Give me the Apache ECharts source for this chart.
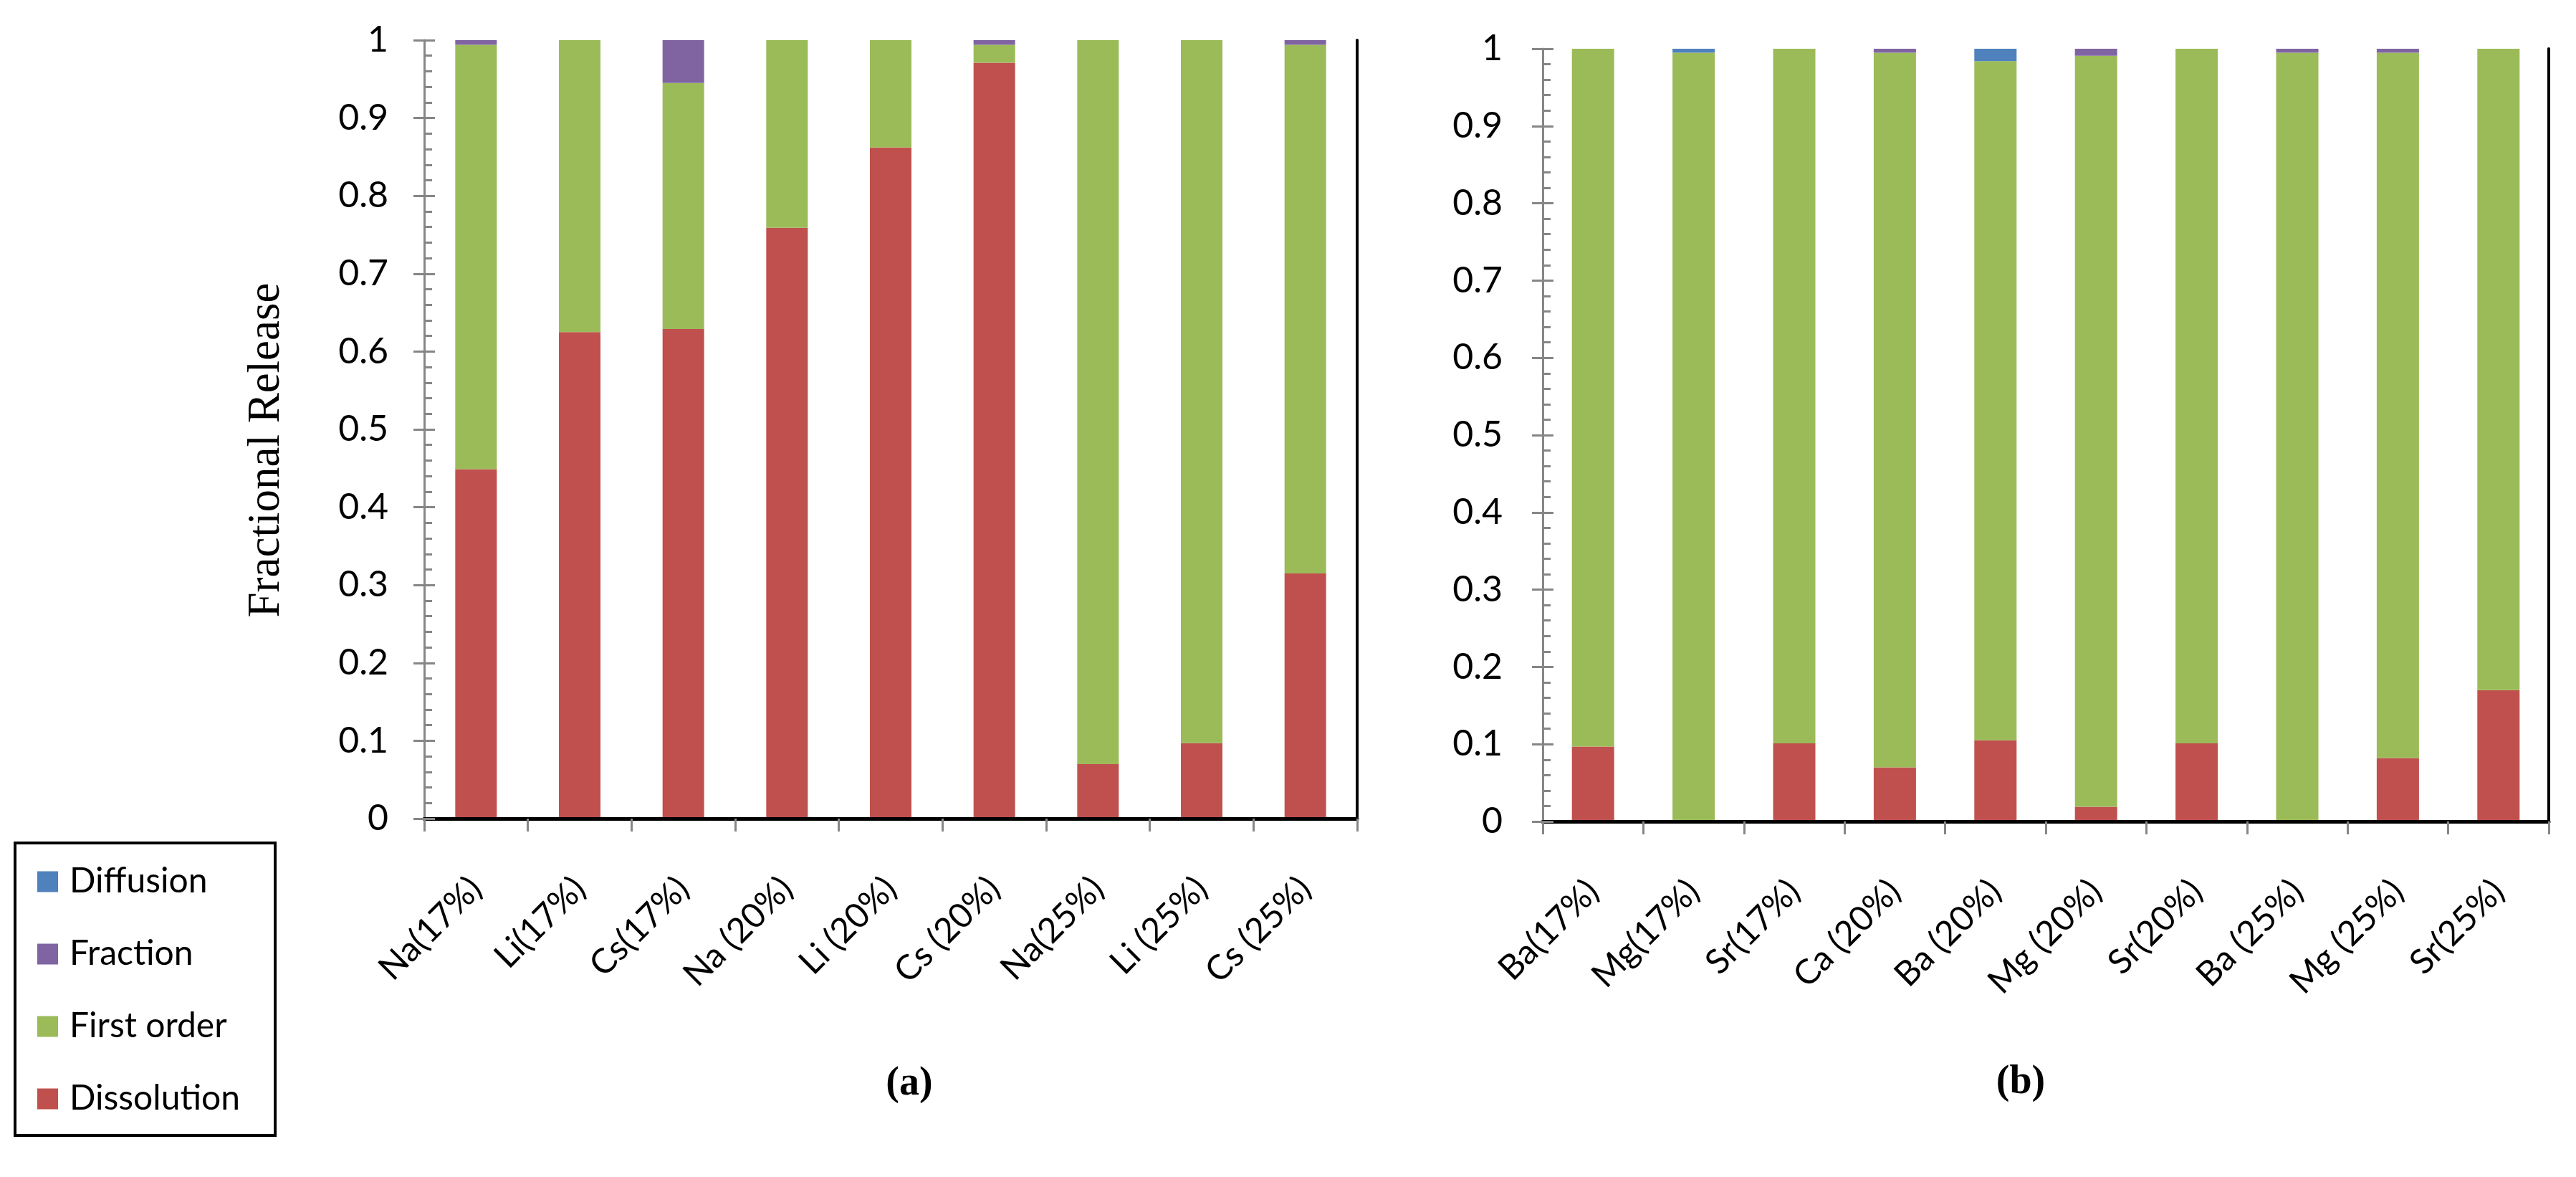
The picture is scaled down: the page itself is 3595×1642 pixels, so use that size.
<!DOCTYPE html>
<html><head><meta charset="utf-8">
<script src="https://cdn.jsdelivr.net/npm/echarts@6/dist/echarts.min.js"></script>
<style>html,body{margin:0;padding:0;background:#fff}#c{width:3595px;height:1642px}</style>
</head><body><div id="c"></div>
<script>
// ---- data ----
const categoriesA = ['Na(17%)','Li(17%)','Cs(17%)','Na (20%)','Li (20%)','Cs (20%)','Na(25%)','Li (25%)','Cs (25%)'];
const dissolutionA = [0.449, 0.625, 0.629, 0.759, 0.862, 0.971, 0.070, 0.097, 0.315];
const firstOrderA  = [0.545, 0.375, 0.316, 0.241, 0.138, 0.023, 0.930, 0.903, 0.679];
const fractionA    = [0.006, 0, 0.055, 0, 0, 0.006, 0, 0, 0.006];
const diffusionA   = [0, 0, 0, 0, 0, 0, 0, 0, 0];

const categoriesB = ['Ba(17%)','Mg(17%)','Sr(17%)','Ca (20%)','Ba (20%)','Mg (20%)','Sr(20%)','Ba (25%)','Mg (25%)','Sr(25%)'];
const dissolutionB = [0.097, 0, 0.101, 0.070, 0.105, 0.019, 0.101, 0, 0.082, 0.170];
const firstOrderB  = [0.903, 0.995, 0.899, 0.925, 0.879, 0.972, 0.899, 0.995, 0.913, 0.830];
const fractionB    = [0, 0, 0, 0.005, 0, 0.009, 0, 0.005, 0.005, 0];
const diffusionB   = [0, 0.005, 0, 0, 0.016, 0, 0, 0, 0, 0];

const legendNames = ['Diffusion','Fraction','First order','Dissolution'];
const colors = {'Diffusion':'#4F81BD','Fraction':'#8064A2','First order':'#9BBB59','Dissolution':'#C0504D'};
const yTicks = {min: 0, max: 1, interval: 0.1};

// ---- chart ----
const chart = echarts.init(document.getElementById('c'), null, {renderer: 'canvas'});
const gray = '#868686';
const labelFont = 'Lato';

function mainX(gridIndex, cats) {
  return {
    type: 'category', gridIndex, data: cats, position: 'bottom', z: 5,
    axisLine: {show: true, lineStyle: {color: gray, width: 4}},
    axisTick: {show: true, length: 18, lineStyle: {color: gray, width: 3}},
    axisLabel: {interval: 0, rotate: 45, margin: 90, color: '#000', fontFamily: labelFont, fontSize: 48},
    splitLine: {show: false}
  };
}
function topX(gridIndex, cats) {
  return {
    type: 'category', gridIndex, data: cats, position: 'top', z: 5,
    axisLine: {show: true, lineStyle: {color: '#000', width: 5}},
    axisTick: {show: false}, axisLabel: {show: false}, splitLine: {show: false}
  };
}
function mainY(gridIndex, margin) {
  return {
    type: 'value', gridIndex, position: 'left', min: yTicks.min, max: yTicks.max, interval: yTicks.interval, z: 5,
    axisLine: {show: true, lineStyle: {color: gray, width: 3}},
    axisTick: {show: true, inside: true, length: 15, lineStyle: {color: gray, width: 3}},
    minorTick: {show: true, splitNumber: 5, length: 11, lineStyle: {color: gray, width: 3}},
    axisLabel: {margin, color: '#000', fontFamily: labelFont, fontSize: 50},
    splitLine: {show: false}
  };
}
function outerTickY(gridIndex) {
  return {
    type: 'value', gridIndex, position: 'left', offset: 0, min: yTicks.min, max: yTicks.max, interval: yTicks.interval, z: 5,
    axisLine: {show: false},
    axisTick: {show: true, inside: false, length: 15, lineStyle: {color: gray, width: 3}},
    axisLabel: {show: false}, splitLine: {show: false}
  };
}
function rightY(gridIndex) {
  return {
    type: 'value', gridIndex, position: 'right', min: yTicks.min, max: yTicks.max, interval: yTicks.interval, z: 5,
    axisLine: {show: true, lineStyle: {color: '#000', width: 4}},
    axisTick: {show: false}, axisLabel: {show: false}, splitLine: {show: false}
  };
}

function stackSeries(xIdx, yIdx, stack, barWidth, diss, first, frac, diff) {
  const list = [['Dissolution', diss], ['First order', first], ['Fraction', frac], ['Diffusion', diff]];
  return list.map(([name, data]) => ({
    name, type: 'bar', stack, xAxisIndex: xIdx, yAxisIndex: yIdx, barWidth,
    data, itemStyle: {color: colors[name]}, z: 2
  }));
}

const option = {
  animation: false,
  backgroundColor: '#fff',
  grid: [
    {left: 592, top: 56, width: 1302, height: 1086, outerBoundsMode: 'none', containLabel: false},
    {left: 2153, top: 68, width: 1404, height: 1078, outerBoundsMode: 'none', containLabel: false}
  ],
  xAxis: [mainX(0, categoriesA), topX(0, categoriesA), mainX(1, categoriesB), topX(1, categoriesB)],
  yAxis: [mainY(0, 50), outerTickY(0), rightY(0), mainY(1, 56), outerTickY(1), rightY(1)],
  legend: {
    data: legendNames, orient: 'vertical', left: 52, top: 1206,
    itemWidth: 29, itemHeight: 29, itemGap: 53, padding: 0, icon: 'rect', selectedMode: false,
    textStyle: {fontFamily: labelFont, fontSize: 48, color: '#000', lineHeight: 48, padding: [0, 0, 0, 11]}
  },
  graphic: [
    {type: 'rect', shape: {x: 21, y: 1176, width: 363, height: 408}, style: {fill: 'none', stroke: '#000', lineWidth: 4}, z: 1},
    {type: 'text', x: 372, y: 628, rotation: Math.PI / 2,
      style: {text: 'Fractional Release', font: '63px "Liberation Serif"', fill: '#000', align: 'center', verticalAlign: 'middle'}},
    {type: 'text', x: 1269, y: 1513,
      style: {text: '(a)', font: 'bold 56px "Liberation Serif"', fill: '#000', align: 'center', verticalAlign: 'middle'}},
    {type: 'text', x: 2820, y: 1511,
      style: {text: '(b)', font: 'bold 56px "Liberation Serif"', fill: '#000', align: 'center', verticalAlign: 'middle'}}
  ],
  series: [
    ...stackSeries(0, 0, 'A', 58, dissolutionA, firstOrderA, fractionA, diffusionA),
    ...stackSeries(2, 3, 'B', 59, dissolutionB, firstOrderB, fractionB, diffusionB)
  ]
};
chart.setOption(option);
</script>
</body></html>
